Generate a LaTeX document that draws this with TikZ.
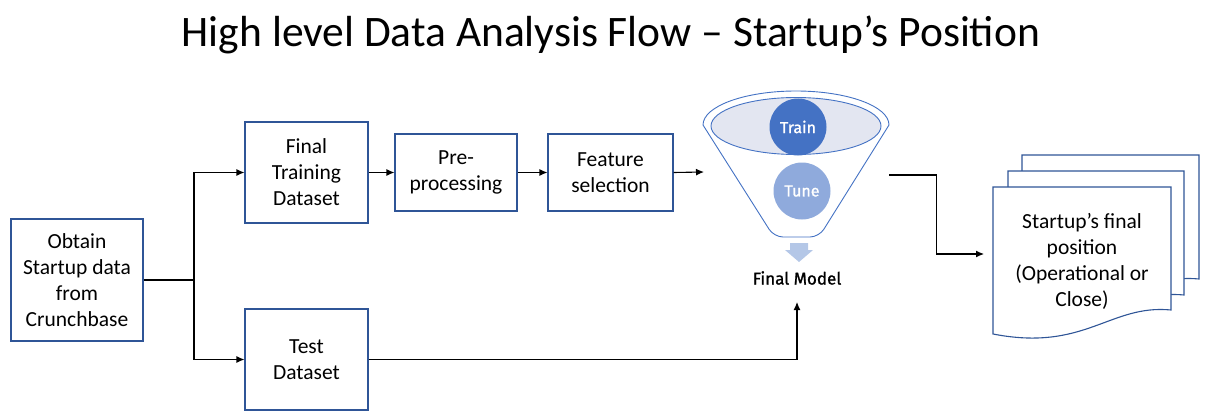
\documentclass[tikz,border=0pt]{standalone}
\usepackage{fontspec}
\setmainfont{Carlito}
\newfontfamily\dinfont{Fira Sans}
\newfontfamily\dinmed{Fira Sans}[BoldFont={Fira Sans}, BoldFeatures={FakeBold=1.3}]
\usetikzlibrary{arrows.meta,calc}
\definecolor{boxblue}{HTML}{2F5597}
\definecolor{funline}{HTML}{4472C4}
\definecolor{funfill}{HTML}{E3E6F1}
\definecolor{trainc}{HTML}{4472C4}
\definecolor{tunec}{HTML}{8FAADC}
\definecolor{downc}{HTML}{B4C7E7}
\tikzset{
  stepbox/.style={draw=boxblue, line width=1.1pt, fill=white, align=center, inner sep=0pt,
    font=\fontsize{21.5}{26}\selectfont},
  arr/.style={line width=1.1pt, -{Latex[length=8pt,width=7pt]}},
  conn/.style={line width=1.1pt},
  docshape/.style={draw=boxblue, line width=1.1pt, fill=white},
  ball/.style={circle, inner sep=0pt, minimum size=57pt, text=white, font=\dinmed\bfseries\fontsize{16}{19}\selectfont}
}
\begin{document}
\begin{tikzpicture}[x={(1pt,0)}, y={(0,-1pt)}]
\useasboundingbox (0,0) rectangle (1211,420);
% title
\node[anchor=base, font=\fontsize{43.5}{52}\selectfont] (title) at (611,47) {High level Data Analysis Flow – Startup’s Position};
% boxes
\node[stepbox, minimum width=132pt, minimum height=122pt] (obt) at (77,280) {Obtain\\Startup data\\from\\Crunchbase};
\node[stepbox, minimum width=123pt, minimum height=101pt] (trn) at (306.5,172.5) {Final\\Training\\Dataset};
\node[stepbox, minimum width=123pt, minimum height=101pt] (tst) at (306.5,359.5) {Test\\Dataset};
\node[stepbox, minimum width=122pt, minimum height=77pt] (pre) at (456,172.5) {Pre-\\processing};
\node[stepbox, minimum width=125pt, minimum height=77pt] (feat) at (610.5,172.5) {Feature\\selection};
% funnel
\draw[funline, line width=0.9pt, fill=white] (703,125) arc[start angle=180, end angle=360, x radius=93, y radius=34]
  [rounded corners=9pt] -- (819,237) -- (774,237) [sharp corners] -- cycle;
\draw[funline, line width=0.9pt, fill=funfill] (796,126) ellipse[x radius=85, y radius=28.5];
\node[ball, fill=trainc] (trainball) at (798,127) {Train};
\node[ball, fill=tunec] (tuneball) at (802,191) {Tune};
\fill[downc] (790,243) -- (808,243) -- (808,250) -- (813,250) -- (799,262) -- (785,250) -- (790,250) -- cycle;
\node[font=\dinmed\bfseries\fontsize{17}{20}\selectfont] (model) at (797,278) {Final Model};
\coordinate (fin) at (704,172);
\coordinate (fout) at (889,175);
\coordinate (mdl) at (797,302);
% documents
\draw[docshape] (1022,155) -- (1199,155) -- (1199,279) .. controls (1138,273) and (1113,321) .. (1022,303) -- cycle;
\draw[docshape] (1008,171) -- (1184,171) -- (1184,295) .. controls (1123,289) and (1098,337) .. (1008,319) -- cycle;
\draw[docshape] (993,187) -- (1171,187) -- (1171,310) .. controls (1110,304) and (1085,352) .. (993,334) -- cycle;
\node[align=center, font=\fontsize{21.5}{26}\selectfont] (doc) at (1082,261) {Startup’s final\\position\\(Operational or\\Close)};
\coordinate (docin) at (984,254);
% connectors
\coordinate (split) at (194,280);
\draw[conn] (obt.east) -- (split);
\draw[arr] (split) |- (trn.west);
\draw[arr] (split) |- (tst.west);
\draw[arr] (trn.east) -- (pre.west);
\draw[arr] (pre.east) -- (feat.west);
\draw[arr] (feat.east) -- (fin);
\draw[arr] (fout) -| ($(fout)!0.5!(docin)$) |- (docin);
\draw[arr] (tst.east) -| (mdl);
\end{tikzpicture}
\end{document}
